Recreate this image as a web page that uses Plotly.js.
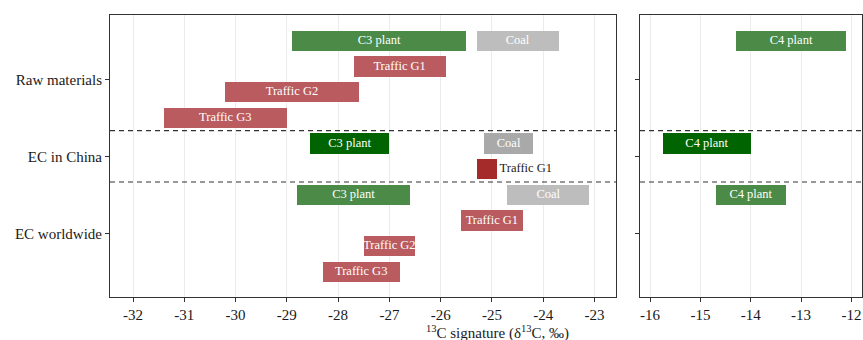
<!DOCTYPE html>
<html>
<head>
<meta charset="utf-8">
<script src="https://cdn.plot.ly/plotly-3.0.1.min.js"></script>
<style>
  html, body { margin: 0; padding: 0; background: #fff; }
  #chart { width: 863px; height: 340px; }
</style>
</head>
<body>
<div id="chart"></div>
<script>
// δ13C ranges of elemental-carbon sources, grouped by where they were measured
const categories = ['Raw materials', 'EC in China', 'EC worldwide'];
const categoryPos = [3, 2, 1];

const sourceGroup = [
  'Raw materials', 'Raw materials', 'Raw materials', 'Raw materials', 'Raw materials', 'Raw materials',
  'EC in China', 'EC in China', 'EC in China', 'EC in China',
  'EC worldwide', 'EC worldwide', 'EC worldwide', 'EC worldwide', 'EC worldwide', 'EC worldwide'
];
const sourceName = [
  'C3 plant', 'Coal', 'Traffic G1', 'Traffic G2', 'Traffic G3', 'C4 plant',
  'C3 plant', 'Coal', 'Traffic G1', 'C4 plant',
  'C3 plant', 'Coal', 'Traffic G1', 'Traffic G2', 'Traffic G3', 'C4 plant'
];
const deltaLow = [
  -28.9, -25.3, -27.7, -30.2, -31.4, -14.3,
  -28.55, -25.15, -25.3, -15.75,
  -28.8, -24.7, -25.6, -27.5, -28.3, -14.7
];
const deltaHigh = [
  -25.5, -23.7, -25.9, -27.6, -29.0, -12.1,
  -27.0, -24.2, -24.9, -14.0,
  -26.6, -23.1, -24.4, -26.5, -26.8, -13.3
];

// row inside each group: plants and coal share the first row, traffic groups follow
const laneOf = { 'C3 plant': 0, 'C4 plant': 0, 'Coal': 0, 'Traffic G1': 1, 'Traffic G2': 2, 'Traffic G3': 3 };
const laneStep = 1 / 3;
const barThickness = 0.266;

const palette = {
  plant: { normal: '#4B8B47', china: '#006400' },
  coal: { normal: '#BDBDBD', china: '#A9A9A9' },
  traffic: { normal: '#B95B5F', china: '#A52A2A' }
};
function kindOf(name) {
  if (name.indexOf('plant') >= 0) return 'plant';
  if (name === 'Coal') return 'coal';
  return 'traffic';
}

// lanes per group, used to centre the rows on the category tick
const lanesInGroup = {};
sourceGroup.forEach((g, i) => {
  lanesInGroup[g] = Math.max(lanesInGroup[g] || 0, laneOf[sourceName[i]] + 1);
});
const rowY = sourceGroup.map((g, i) => {
  const c = categoryPos[categories.indexOf(g)];
  return c + (lanesInGroup[g] - 1) * laneStep / 2 - laneOf[sourceName[i]] * laneStep;
});

const serif = 'Liberation Serif, Times New Roman, serif';
const traces = [];
const isC4 = sourceName.map(n => n === 'C4 plant');

// one bar trace per panel
[false, true].forEach(right => {
  const idx = sourceName.map((_, i) => i).filter(i => isC4[i] === right);
  traces.push({
    type: 'bar',
    orientation: 'h',
    xaxis: right ? 'x2' : 'x',
    yaxis: right ? 'y2' : 'y',
    y: idx.map(i => rowY[i]),
    base: idx.map(i => deltaLow[i]),
    x: idx.map(i => deltaHigh[i] - deltaLow[i]),
    width: barThickness,
    marker: {
      color: idx.map(i => palette[kindOf(sourceName[i])][sourceGroup[i] === 'EC in China' ? 'china' : 'normal']),
      line: { width: 0 }
    },
    textposition: 'none',
    hoverinfo: 'skip',
    showlegend: false
  });

  // labels: centred in the bar, or beside it when the bar is too short
  const inside = idx.filter(i => deltaHigh[i] - deltaLow[i] >= 0.6);
  const outside = idx.filter(i => deltaHigh[i] - deltaLow[i] < 0.6);
  traces.push({
    type: 'scatter',
    mode: 'text',
    xaxis: right ? 'x2' : 'x',
    yaxis: right ? 'y2' : 'y',
    x: inside.map(i => (deltaLow[i] + deltaHigh[i]) / 2),
    y: inside.map(i => rowY[i]),
    text: inside.map(i => sourceName[i]),
    textposition: 'middle center',
    textfont: { family: serif, size: 12.5, color: '#ffffff' },
    hoverinfo: 'skip',
    showlegend: false,
    cliponaxis: false
  });
  if (outside.length) {
    traces.push({
      type: 'scatter',
      mode: 'text',
      xaxis: right ? 'x2' : 'x',
      yaxis: right ? 'y2' : 'y',
      x: outside.map(i => deltaHigh[i] + 0.05),
      y: outside.map(i => rowY[i]),
      text: outside.map(i => sourceName[i]),
      textposition: 'middle right',
      textfont: { family: serif, size: 12.5, color: '#1a1a1a' },
      hoverinfo: 'skip',
      showlegend: false,
      cliponaxis: false
    });
  }
});

// dashed separators half-way between neighbouring groups
const separators = [];
for (let k = 0; k < categories.length - 1; k++) {
  const upper = rowY.filter((_, i) => sourceGroup[i] === categories[k]);
  const lower = rowY.filter((_, i) => sourceGroup[i] === categories[k + 1]);
  separators.push((Math.min(...upper) + Math.max(...lower)) / 2);
}
const shapes = [];
separators.forEach(yv => {
  ['x domain', 'x2 domain'].forEach(xr => {
    shapes.push({
      type: 'line', xref: xr, yref: 'y',
      x0: 0, x1: 1, y0: yv, y1: yv,
      line: { color: '#333333', width: 1.1, dash: '5px,4px' },
      layer: 'above'
    });
  });
});

const leftTicks = [-32, -31, -30, -29, -28, -27, -26, -25, -24, -23];
const rightTicks = [-16, -15, -14, -13, -12];
const yRange = [0.173, 3.835];

const axisCommon = {
  showline: true, mirror: true, linecolor: '#333333', linewidth: 1,
  ticks: 'outside', ticklen: 4, tickwidth: 1, tickcolor: '#333333',
  tickfont: { family: serif, size: 15, color: '#1a1a1a' },
  zeroline: false
};

const layout = {
  width: 863, height: 340,
  margin: { l: 110, r: 1, t: 15, b: 43 },
  paper_bgcolor: '#ffffff',
  plot_bgcolor: '#ffffff',
  xaxis: Object.assign({}, axisCommon, {
    domain: [0, 0.6735], range: [-32.45, -22.57],
    tickvals: leftTicks, ticktext: leftTicks.map(String),
    showgrid: true, gridcolor: '#EBEBEB', gridwidth: 1.1,
    anchor: 'y'
  }),
  xaxis2: Object.assign({}, axisCommon, {
    domain: [0.7048, 1], range: [-16.2, -11.79],
    tickvals: rightTicks, ticktext: rightTicks.map(String),
    showgrid: true, gridcolor: '#EBEBEB', gridwidth: 1.1,
    anchor: 'y2'
  }),
  yaxis: Object.assign({}, axisCommon, {
    range: yRange, tickvals: categoryPos, ticktext: categories,
    showgrid: false, anchor: 'x'
  }),
  yaxis2: Object.assign({}, axisCommon, {
    range: yRange, tickvals: categoryPos, showticklabels: false,
    showgrid: false, anchor: 'x2'
  }),
  shapes: shapes,
  annotations: [{
    xref: 'paper', yref: 'paper', x: 0.515, y: 0, yshift: -35,
    xanchor: 'center', yanchor: 'middle', showarrow: false,
    text: '<sup>13</sup>C signature (δ<sup>13</sup>C, ‰)',
    font: { family: serif, size: 15, color: '#1a1a1a' }
  }],
  bargap: 0
};

Plotly.newPlot('chart', traces, layout, { displayModeBar: false, staticPlot: true });
</script>
</body>
</html>
